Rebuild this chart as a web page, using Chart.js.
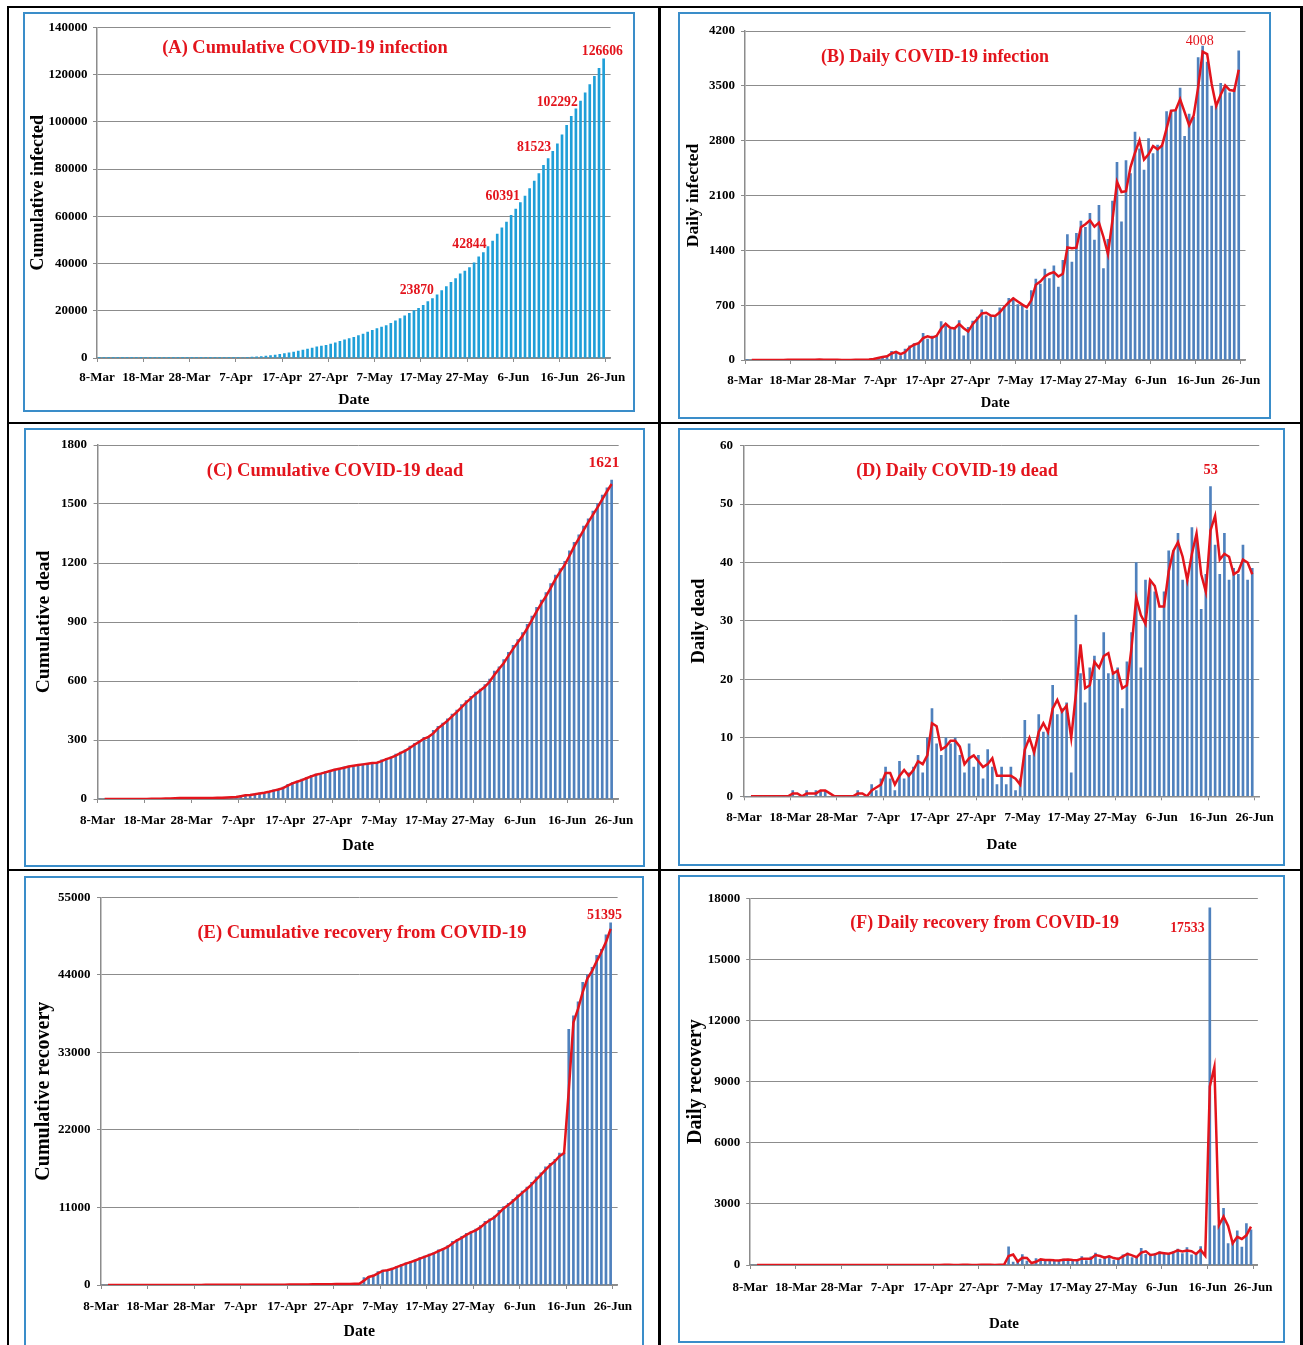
<!DOCTYPE html>
<html>
<head>
<meta charset="utf-8">
<script src="https://cdn.jsdelivr.net/npm/chart.js"></script>
<style>
html,body{margin:0;padding:0;background:#fff;}
#page{position:relative;width:1303px;height:1345px;overflow:hidden;background:#fff;}
.rule{position:absolute;background:#000;}
.box{position:absolute;box-sizing:border-box;border:2px solid #3a8dc9;}
canvas{position:absolute;}
</style>
</head>
<body>
<div id="page">
  <div class="rule" style="left:7px;top:6px;width:1296px;height:2px"></div>
  <div class="rule" style="left:7px;top:6px;width:2px;height:1339px"></div>
  <div class="rule" style="left:658px;top:6px;width:3px;height:1339px"></div>
  <div class="rule" style="left:1300px;top:6px;width:3px;height:1339px"></div>
  <div class="rule" style="left:7px;top:422px;width:1296px;height:2px"></div>
  <div class="rule" style="left:7px;top:869px;width:1296px;height:2px"></div>
</div>
<script>
// ---------------- DATA (8-Mar .. 25-Jun, one value per day) ----------------
const tickLabels = ['8-Mar','18-Mar','28-Mar','7-Apr','17-Apr','27-Apr','7-May','17-May','27-May','6-Jun','16-Jun','26-Jun'];

const dailyInfected = [
  3,0,0,0,0,0,2,0,3,2, 4,3,3,4,3,6,6,0,5,4, 0,0,1,2,
  3,2,5,9,18,35,41,54,112,94, 58,139,182,209,219,341,266,306,312,492, 434,390,414,503,309,418,497,549,641,564,
  571,552,665,688,786,790,706,709,636,887, 1034,969,1162,1041,1202,930,1273,1602,1251,1617, 1773,1694,1873,1532,1975,1166,1541,2029,2523,1764, 2545,
  2381,2911,2695,2423,2828,2635,2743,2735,3171,3190, 3187,3471,2856,3141,3099,3862,4008,3803,3243,3240, 3531,3480,3412,3462,3946
];
const dailyInfectedAvg = [
  null,1.5,0,0,0,0,1,1,1.5,2.5, 3,3.5,3,3.5,3.5,4.5,6,3,2.5,4.5, 2,0,0.5,1.5,
  2.5,2.5,3.5,7,13.5,26.5,38,47.5,83,103, 76,98.5,160.5,195.5,214,280,303.5,286,309,402, 463,412,402,458.5,406,363.5,457.5,523,595,602.5,
  567.5,561.5,608.5,676.5,737,788,748,707.5,672.5,761.5, 960.5,1001.5,1065.5,1101.5,1121.5,1066,1101.5,1437.5,1426.5,1434, 1695,1733.5,1783.5,1702.5,1753.5,1570.5,1353.5,1785,2276,2143.5, 2154.5,
  2463,2646,2803,2559,2625.5,2731.5,2689,2739,2953,3180.5, 3188.5,3329,3163.5,2998.5,3120,3480.5,3935,3905.5,3523,3241.5, 3385.5,3505.5,3446,3437,3704
];
const cumulativeInfected = [
  3,3,3,3,3,3,5,5,8,10, 14,17,20,24,27,33,39,39,44,48, 48,48,49,51,
  54,56,61,70,88,123,164,218,330,424, 482,621,803,1012,1231,1572,1838,2144,2456,2948, 3382,3772,4186,4689,4998,5416,5913,6462,7103,7667,
  8238,8790,9455,10143,10929,11719,12425,13134,13770,14657, 15691,16660,17822,18863,20065,20995,22268,23870,25121,26738, 28511,30205,32078,33610,35585,36751,38292,40321,42844,44608, 47153,
  49534,52445,55140,57563,60391,63026,65769,68504,71675,74865, 78052,81523,84379,87520,90619,94481,98489,102292,105535,108775, 112306,115786,119198,122660,126606
];
const dailyDead = [
  0,0,0,0,0,0,0,0,0,0, 1,0,0,1,0,1,1,1,0,0, 0,0,0,0,
  1,0,0,2,1,3,5,3,1,6, 3,4,5,7,4,10,15,9,7,10, 9,10,7,4,9,5,7,3,8,5,
  2,5,2,5,1,3,13,7,8,14, 11,11,19,14,15,16,4,31,21,16, 22,24,20,28,21,21,22,15,23,28, 40,
  22,37,37,35,30,35,42,42,45,37, 37,46,44,32,38,53,43,38,45,37, 39,38,43,37,39
];
const dailyDeadAvg = [
  null,0,0,0,0,0,0,0,0,0, 0.5,0.5,0,0.5,0.5,0.5,1,1,0.5,0, 0,0,0,0,
  0.5,0.5,0,1,1.5,2,4,4,2,3.5, 4.5,3.5,4.5,6,5.5,7,12.5,12,8,8.5, 9.5,9.5,8.5,5.5,6.5,7,6,5,5.5,6.5,
  3.5,3.5,3.5,3.5,3,2,8,10,7.5,11, 12.5,11,15,16.5,14.5,15.5,10,17.5,26,18.5, 19,23,22,24,24.5,21,21.5,18.5,19,25.5, 34,
  31,29.5,37,36,32.5,32.5,38.5,42,43.5,41, 37,41.5,45,38,35,45.5,48,40.5,41.5,41, 38,38.5,40.5,40,38
];
const cumulativeDead = [
  0,0,0,0,0,0,0,0,0,0, 1,1,1,2,2,3,4,5,5,5, 5,5,5,5,
  6,6,6,8,9,12,17,20,21,27, 30,34,39,46,50,60,75,84,91,101, 110,120,127,131,140,145,152,155,163,168,
  170,175,177,182,183,186,199,206,214,228, 239,250,269,283,298,314,318,349,370,386, 408,432,452,480,501,522,544,559,582,610, 650,
  672,709,746,781,811,846,888,930,975,1012, 1049,1095,1139,1171,1209,1262,1305,1343,1388,1425, 1464,1502,1545,1582,1621
];
const cumulativeDeadAvg = [
  null,0,0,0,0,0,0,0,0,0, 0.5,1,1,1.5,2,2.5,3.5,4.5,5,5, 5,5,5,5,
  5.5,6,6,7,8.5,10.5,14.5,18.5,20.5,24, 28.5,32,36.5,42.5,48,55,67.5,79.5,87.5,96, 105.5,115,123.5,129,135.5,142.5,148.5,153.5,159,165.5,
  169,172.5,176,179.5,182.5,184.5,192.5,202.5,210,221, 233.5,244.5,259.5,276,290.5,306,316,333.5,359.5,378, 397,420,442,466,490.5,511.5,533,551.5,570.5,596, 630,
  661,690.5,727.5,763.5,796,828.5,867,909,952.5,993.5, 1030.5,1072,1117,1155,1190,1235.5,1283.5,1324,1365.5,1406.5, 1444.5,1483,1523.5,1563.5,1601.5
];
const dailyRecovered = [
  0,0,0,0,0,0,0,3,0,0, 0,0,0,0,0,2,2,0,4,4, 0,4,0,6,
  0,1,0,4,3,0,0,0,0,0, 3,3,3,0,7,0,9,0,17,10, 2,5,16,4,1,9,9,19,0,10,
  14,3,886,147,193,507,191,0,313,236, 252,245,214,225,296,235,256,212,408,214, 395,588,296,415,433,245,346,500,590,360, 406,
  816,523,470,571,643,521,578,657,777,562, 849,501,579,903,0,17533,1925,1975,2781,1048, 1084,1678,880,2031,1729
];
const dailyRecoveredAvg = [
  null,0,0,0,0,0,0,1.5,1.5,0, 0,0,0,0,0,1,2,1,2,4, 2,2,2,3,
  3,0.5,0.5,2,3.5,1.5,0,0,0,0, 1.5,3,3,1.5,3.5,3.5,4.5,4.5,8.5,13.5, 6,3.5,10.5,10,2.5,5,9,14,9.5,5,
  12,8.5,444.5,516.5,170,350,349,95.5,156.5,274.5, 244,248.5,229.5,219.5,260.5,265.5,245.5,234,310,311, 304.5,491.5,442,355.5,424,339,295.5,423,545,475, 383,
  611,669.5,496.5,520.5,607,582,549.5,617.5,717,669.5, 705.5,675,540,741,451.5,8766.5,9729,1950,2378,1914.5, 1066,1381,1279,1455.5,1880
];
const cumulativeRecovered = [
  0,0,0,0,0,0,0,3,3,3, 3,3,3,3,3,5,7,7,11,15, 15,19,19,25,
  25,26,26,30,33,33,33,33,33,33, 36,39,42,42,49,49,58,58,75,85, 87,92,108,112,113,122,131,150,150,160,
  174,177,1063,1210,1403,1910,2101,2101,2414,2650, 2902,3147,3361,3586,3882,4117,4373,4585,4993,5207, 5602,6190,6486,6901,7334,7579,7925,8425,9015,9375, 9781,
  10597,11120,11590,12161,12804,13325,13903,14560,15337,15899, 16748,17249,17828,18731,18731,36264,38189,40164,42945,43993, 45077,46755,47635,49666,51395
];
const cumulativeRecoveredAvg = [
  null,0,0,0,0,0,0,1.5,3,3, 3,3,3,3,3,4,6,7,9,13, 15,17,19,22,
  25,25.5,26,28,31.5,33,33,33,33,33, 34.5,37.5,40.5,42,45.5,49,53.5,58,66.5,80, 86,89.5,100,110,112.5,117.5,126.5,140.5,150,155,
  167,175.5,620,1136.5,1306.5,1656.5,2005.5,2101,2257.5,2532, 2776,3024.5,3254,3473.5,3734,3999.5,4245,4479,4789,5100, 5404.5,5896,6338,6693.5,7117.5,7456.5,7752,8175,8720,9195, 9578,
  10189,10858.5,11355,11875.5,12482.5,13064.5,13614,14231.5,14948.5,15618, 16323.5,16998.5,17538.5,18279.5,18731,27497.5,37226.5,39176.5,41554.5,43469, 44535,45916,47195,48650.5,50530.5
];

// ---------------- STYLE / LAYOUT ----------------
const FAMILY = "'Liberation Serif', 'Times New Roman', Times, serif";
const RED = '#e3141c';
const GRID = '#8c8c8c';
const STEEL = '#4f81bd';
Chart.defaults.font.family = FAMILY;
Chart.defaults.color = '#000';

const panels = [
  { box:[23,12,635,412], plot:[97,25,614,358], ymax:140000, ystep:20000,
    ytitle:'Cumulative infected', ytSize:18, ytX:38.5, dateSize:15.5, dateY:400, xtickY:377, ytickGap:9.5,
    title:'(A) Cumulative COVID-19 infection', tSize:18.4, tX:305, tY:48,
    bars:cumulativeInfected, barColor:'#1f9fd8', line:null,
    lblSize:13.7, lblWeight:'bold',
    labels:[{i:71,dx:-11,dy:-10.7},{i:82,dx:-9.3,dy:-12.1},{i:89,dx:-8.4,dy:-18.9},{i:96,dx:-9.5,dy:-17.6},{i:102,dx:-14,dy:-14.2},{i:109,dx:-1.3,dy:-7.2}] },
  { box:[678,12,1271,419], plot:[745,31,1252,360], ymax:4200, ystep:700,
    ytitle:'Daily infected', ytSize:17.5, ytX:693, dateSize:14.5, dateY:403.5, xtickY:380, ytickGap:10,
    title:'(B) Daily COVID-19 infection', tSize:17.9, tX:935, tY:57.7,
    bars:dailyInfected, barColor:STEEL, line:dailyInfectedAvg,
    lblSize:14, lblWeight:'normal', labels:[{i:101,dx:-3,dy:-5}] },
  { box:[24,428,645,867], plot:[97.6,445,625.8,799], ymax:1800, ystep:300,
    ytitle:'Cumulative dead', ytSize:19.5, ytX:44, dateSize:15.8, dateY:845.5, xtickY:820, ytickGap:10.5,
    title:'(C) Cumulative COVID-19 dead', tSize:18.5, tX:335, tY:471.7,
    bars:cumulativeDead, barColor:STEEL, line:cumulativeDeadAvg,
    lblSize:15.4, lblWeight:'bold', labels:[{i:109,dx:-7.7,dy:-16.9}] },
  { box:[678,428,1285,866], plot:[744,445.7,1265,796.3], ymax:60, ystep:10,
    ytitle:'Daily dead', ytSize:18.5, ytX:699.4, dateSize:15.2, dateY:845.5, xtickY:816.7, ytickGap:11,
    title:'(D) Daily COVID-19 dead', tSize:18.1, tX:957, tY:471.7,
    bars:dailyDead, barColor:STEEL, line:dailyDeadAvg,
    lblSize:14.4, lblWeight:'bold', labels:[{i:100,dx:0.2,dy:-16.6}] },
  { box:[24,876,644,1349], plot:[101,897.3,622,1285], ymax:55000, ystep:11000,
    ytitle:'Cumulative recovery', ytSize:20, ytX:43.4, dateSize:15.8, dateY:1331.5, xtickY:1306, ytickGap:10.5,
    title:'(E) Cumulative recovery from COVID-19', tSize:18.5, tX:362, tY:933,
    bars:cumulativeRecovered, barColor:STEEL, line:cumulativeRecoveredAvg,
    lblSize:14, lblWeight:'bold', labels:[{i:109,dx:-6.2,dy:-7.7}] },
  { box:[678,875,1285,1343], plot:[750.2,898.3,1264,1265], ymax:18000, ystep:3000,
    ytitle:'Daily recovery', ytSize:20, ytX:695.6, dateSize:15, dateY:1324, xtickY:1286.7, ytickGap:10,
    title:'(F) Daily recovery from COVID-19', tSize:17.9, tX:984.6, tY:923,
    bars:dailyRecovered, barColor:STEEL, line:dailyRecoveredAvg,
    lblSize:13.8, lblWeight:'bold', labels:[{i:100,dx:-22.4,dy:21}] }
];

const page = document.getElementById('page');
const toPoints = arr => arr.map((v, i) => ({x: i, y: v}));

panels.forEach((p, idx) => {
  const [bl, bt, br, bb] = p.box;
  const box = document.createElement('div');
  box.className = 'box';
  Object.assign(box.style, {left: bl + 'px', top: bt + 'px', width: (br - bl) + 'px', height: (bb - bt) + 'px'});
  page.appendChild(box);

  const cl = bl + 2, ct = bt + 2, cw = br - bl - 4, ch = bb - bt - 4;
  const canvas = document.createElement('canvas');
  canvas.width = cw; canvas.height = ch;
  Object.assign(canvas.style, {left: cl + 'px', top: ct + 'px', width: cw + 'px', height: ch + 'px'});
  page.appendChild(canvas);

  const [pl, pt, pr, pb] = p.plot;
  const yW = pl - cl, xH = (ct + ch) - pb;
  const padTop = pt - ct, padRight = (cl + cw) - pr;
  const ytPad = Math.max(0, p.ytX - cl - p.ytSize * 0.6);
  const datePad = Math.max(0, (ct + ch) - p.dateY - p.dateSize * 0.6);
  const xTickPad = Math.max(0, p.xtickY - 0.56 * 13 - pb - 4);
  const yTickPad = Math.max(0, p.ytickGap - 4);

  const datasets = [{
    type: 'bar', data: toPoints(p.bars), backgroundColor: p.barColor,
    borderWidth: 0, barThickness: 2, order: 2
  }];
  if (p.line) {
    datasets.push({
      type: 'line', data: toPoints(p.line), borderColor: RED, borderWidth: 2.5,
      pointRadius: 0, fill: false, tension: 0, order: 1
    });
  }

  const overlay = {
    id: 'overlay' + idx,
    afterDatasetsDraw(chart) {
      const ctx = chart.ctx;
      ctx.save();
      ctx.fillStyle = RED;
      ctx.textAlign = 'center';
      ctx.textBaseline = 'middle';
      ctx.font = 'bold ' + p.tSize + 'px ' + FAMILY;
      ctx.fillText(p.title, p.tX - cl, p.tY - ct);
      ctx.font = p.lblWeight + ' ' + p.lblSize + 'px ' + FAMILY;
      const xs = chart.scales.x, ys = chart.scales.y;
      p.labels.forEach(l => {
        const v = p.bars[l.i];
        ctx.fillText(String(v), xs.getPixelForValue(l.i) + l.dx, ys.getPixelForValue(v) + l.dy);
      });
      ctx.restore();
    }
  };

  new Chart(canvas, {
    type: 'bar',
    data: { datasets },
    plugins: [overlay],
    options: {
      responsive: false, animation: false, devicePixelRatio: 1, events: [],
      layout: { padding: { left: 0, top: padTop, right: padRight, bottom: 0 } },
      plugins: { legend: { display: false }, tooltip: { enabled: false }, title: { display: false } },
      scales: {
        x: {
          type: 'linear', min: -0.5, max: tickLabels.length * 10 - 9.5, offset: false,
          afterBuildTicks: s => { s.ticks = tickLabels.map((t, k) => ({ value: k * 10 - 0.5 })); },
          afterFit: s => { s.height = xH; },
          ticks: {
            autoSkip: false, maxRotation: 0, minRotation: 0, padding: xTickPad, color: '#000',
            font: { size: 13, weight: 'bold', family: FAMILY },
            callback: v => tickLabels[Math.round((v + 0.5) / 10)]
          },
          grid: { offset: false, drawOnChartArea: false, drawTicks: true, tickLength: 4, color: GRID, lineWidth: 1 },
          border: { display: true, color: GRID, width: 1.5 },
          title: { display: true, text: 'Date', color: '#000',
                   font: { size: p.dateSize, weight: 'bold', family: FAMILY },
                   padding: { top: 0, bottom: datePad } }
        },
        y: {
          min: 0, max: p.ymax,
          afterFit: s => { s.width = yW; },
          ticks: { stepSize: p.ystep, padding: yTickPad, color: '#000',
                   font: { size: 13, weight: 'bold', family: FAMILY },
                   callback: v => String(v) },
          grid: { color: GRID, lineWidth: 1, drawTicks: true, tickLength: 4 },
          border: { display: true, color: GRID, width: 1.5 },
          title: { display: true, text: p.ytitle, color: '#000',
                   font: { size: p.ytSize, weight: 'bold', family: FAMILY },
                   padding: { top: ytPad, bottom: 0 } }
        }
      }
    }
  });
});
</script>
</body>
</html>
